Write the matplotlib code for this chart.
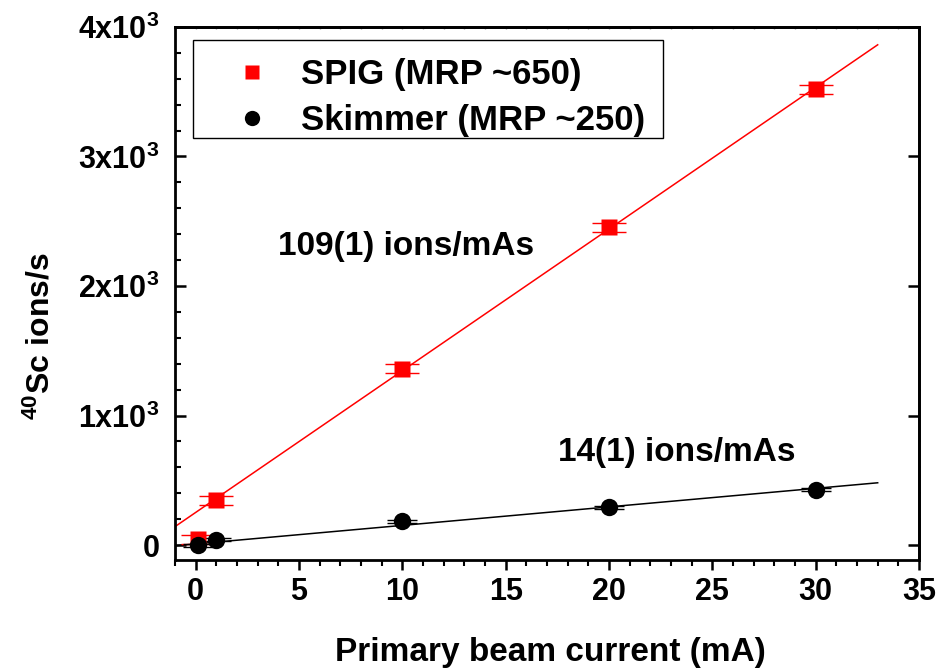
import matplotlib
matplotlib.use("Agg")
import matplotlib.pyplot as plt
from matplotlib.ticker import MultipleLocator, FixedLocator, FixedFormatter
from matplotlib.lines import Line2D
from matplotlib.patches import Rectangle
import numpy as np

plt.rcParams['font.family'] = ['Liberation Sans', 'DejaVu Sans']
plt.rcParams['font.weight'] = 'bold'
plt.rcParams['mathtext.fontset'] = 'custom'
plt.rcParams['mathtext.rm'] = 'Liberation Sans:bold'
plt.rcParams['mathtext.bf'] = 'Liberation Sans:bold'
plt.rcParams['mathtext.it'] = 'Liberation Sans:bold'

# Data
current = [0.1, 1, 10, 20, 30]
spig = [45, 345, 1360, 2455, 3520]
spig_err = [35, 35, 35, 35, 35]
skimmer = [0, 40, 185, 293, 428]
skimmer_err = [12, 12, 12, 12, 12]

fit_range = [-1, 33]
spig_slope, spig_icpt = 109.4, 252
skim_slope, skim_icpt = 14.3, 9

ytick_vals = [0, 1000, 2000, 3000, 4000]
ytick_labels = ['0', r'$\mathbf{1x10^{3}}$', r'$\mathbf{2x10^{3}}$',
                r'$\mathbf{3x10^{3}}$', r'$\mathbf{4x10^{3}}$']
xtick_vals = [0, 5, 10, 15, 20, 25, 30, 35]

fig = plt.figure(figsize=(9.45, 6.72), dpi=100)
ax = fig.add_axes([0.1852, 0.1667, 0.7873, 0.7932])

fx = np.array(fit_range, dtype=float)
ax.plot(fx, spig_slope * fx + spig_icpt, color='#ff0000', lw=1.1, zorder=2)
ax.plot(fx, skim_slope * fx + skim_icpt, color='black', lw=1.1, zorder=2)

ax.errorbar(current, spig, yerr=spig_err, fmt='none', ecolor='#ff0000',
            elinewidth=1, capsize=12, capthick=1, zorder=3)
ax.errorbar(current, skimmer, yerr=skimmer_err, fmt='none', ecolor='black',
            elinewidth=1, capsize=11, capthick=1, zorder=3)
ax.plot(current, spig, 's', color='#ff0000', ms=11.5, mec='none', zorder=4)
ax.plot(current, skimmer, 'o', color='black', ms=12.5, mec='none', zorder=4)

ax.set_xlim(-1, 35)
ax.set_ylim(-115, 4000)

ax.xaxis.set_major_locator(FixedLocator(xtick_vals))
ax.xaxis.set_minor_locator(MultipleLocator(1))
ax.yaxis.set_major_locator(FixedLocator(ytick_vals))
ax.yaxis.set_major_formatter(FixedFormatter(ytick_labels))
ax.yaxis.set_minor_locator(MultipleLocator(200))

for s in ax.spines.values():
    s.set_linewidth(2.0)

ax.tick_params(axis='x', which='major', direction='out', length=7.5, width=1.8,
               labelsize=22, pad=5)
ax.tick_params(axis='x', which='minor', direction='out', length=4, width=1.5)
ax.tick_params(axis='y', which='major', direction='in', length=8, width=1.8,
               labelsize=22, pad=11)
ax.tick_params(axis='y', which='minor', direction='in', length=4.5, width=1.5)
for lab in ax.get_xticklabels() + ax.get_yticklabels():
    lab.set_fontweight('bold')

sec_y = ax.secondary_yaxis('right')
sec_y.yaxis.set_major_locator(FixedLocator(ytick_vals))
sec_y.yaxis.set_minor_locator(MultipleLocator(200))
sec_y.tick_params(which='major', direction='in', length=8, width=1.8, labelright=False)
sec_y.tick_params(which='minor', direction='out', length=1.5, width=1.5)
sec_y.spines['right'].set_linewidth(2.0)

sec_x = ax.secondary_xaxis('top')
sec_x.xaxis.set_major_locator(FixedLocator(xtick_vals))
sec_x.xaxis.set_minor_locator(MultipleLocator(1))
sec_x.tick_params(which='both', direction='in', length=1.5, width=1, labeltop=False,
                  color='#999999')
sec_x.spines['top'].set_linewidth(2.0)

ax.set_xlabel('Primary beam current (mA)', fontsize=24, fontweight='bold', va='center')
ax.xaxis.set_label_coords(0.505, -0.173)
ax.set_ylabel(r'$^{\mathbf{40}}\mathbf{Sc\ ions/s}$', fontsize=23, va='center')
ax.yaxis.set_label_coords(-0.18, 0.42)

ax.text(3.97, 2303, '109(1) ions/mAs', fontsize=24, fontweight='bold',
        ha='left', va='center')
ax.text(17.53, 712, '14(1) ions/mAs', fontsize=24, fontweight='bold',
        ha='left', va='center')

# legend frame
ax.add_patch(Rectangle((0.0242, 0.7917), 0.6318, 0.1839, transform=ax.transAxes,
                       facecolor='white', edgecolor='black', lw=1.0, zorder=5))
handles = [Line2D([], [], marker='s', ls='none', color='#ff0000', ms=10, mec='none'),
           Line2D([], [], marker='o', ls='none', color='black', ms=11, mec='none')]
leg = ax.legend(handles, ['SPIG (MRP ~650)', 'Skimmer (MRP ~250)'],
                loc='upper left', bbox_to_anchor=(0.0242, 0.9643), borderaxespad=0,
                frameon=False,
                prop={'size': 25, 'weight': 'bold'}, handlelength=2.7,
                handletextpad=0.05, borderpad=0.35, labelspacing=0.38)
leg.set_zorder(6)

fig.savefig('out.png', dpi=100)
